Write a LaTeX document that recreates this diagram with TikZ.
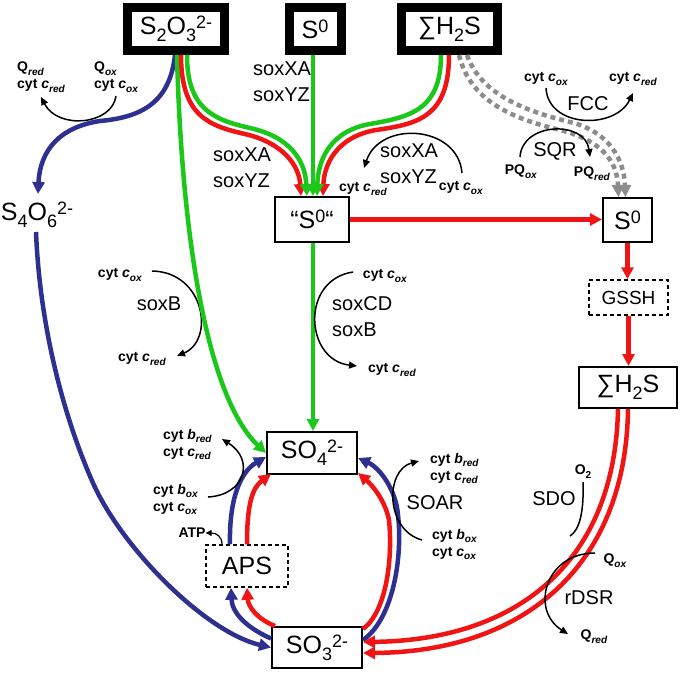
\documentclass[tikz,border=0pt]{standalone}
\usepackage{fontspec}
\usepackage{graphicx}
\setmainfont{Liberation Sans}
\usetikzlibrary{arrows.meta}
\definecolor{sgreen}{RGB}{25,200,25}
\definecolor{sred}{RGB}{240,20,20}
\definecolor{sblue}{RGB}{45,48,145}
\definecolor{sgray}{RGB}{140,140,140}
\newcommand\dn[1]{\raisebox{-0.28em}{\scalebox{0.72}{#1}}}
\newcommand\up[1]{\raisebox{0.25em}{\scalebox{0.72}{#1}}}
\newcommand\cy[2]{cyt \textit{#1}\dn{\textit{#2}}}
\tikzset{
 heavy/.style={draw, line width=9pt, inner sep=0pt, font=\fontsize{25}{30}\selectfont},
 thinbox/.style={draw, line width=2pt, inner sep=0pt, font=\fontsize{25}{30}\selectfont},
 dbox/.style={draw, dash pattern=on 4pt off 3pt, line width=1.5pt, inner sep=0pt},
 big/.style={font=\fontsize{20}{26}\selectfont, inner sep=0pt, align=left},
 small/.style={font=\fontsize{14}{17}\selectfont\bfseries, inner sep=0pt, align=left},
 flow/.style={line width=4.5pt, -{Triangle[length=12pt,width=12pt]}},
 thinarr/.style={line width=1.5pt, -{Triangle[length=8pt,width=7pt]}},
 graydash/.style={flow, sgray, dash pattern=on 5pt off 4pt},
}
\begin{document}
\begin{tikzpicture}[x=1pt,y=-1pt]
\useasboundingbox (0,0) rectangle (680,672);
% boxes
\node[heavy, minimum width=97pt, minimum height=43pt] (s2o3) at (176,29) {S\dn{2}O\dn{3}\up{2-}};
\node[heavy, minimum width=52pt, minimum height=43pt] (s0t) at (315,29) {S\up{0}};
\node[heavy, minimum width=96pt, minimum height=43pt] (sumt) at (449.5,29) {∑H\dn{2}S};
\node[thinbox, minimum width=74pt, minimum height=45pt] (qs0) at (312,219.5) {“S\up{0}“};
\node[thinbox, minimum width=49pt, minimum height=44pt] (s0r) at (627.5,220) {S\up{0}};
\node[dbox, font=\fontsize{19}{22}\selectfont, minimum width=79pt, minimum height=35pt] (gssh) at (628.5,297.5) {GSSH};
\node[thinbox, minimum width=98pt, minimum height=41pt] (suml) at (628,387.5) {∑H\dn{2}S};
\node[thinbox, minimum width=90pt, minimum height=42pt] (so4) at (312,453) {SO\dn{4}\up{2-}};
\node[dbox, font=\fontsize{25}{30}\selectfont, minimum width=82pt, minimum height=42pt] (aps) at (247,566) {APS};
\node[thinbox, minimum width=90pt, minimum height=41pt] (so3) at (317,647.5) {SO\dn{3}\up{2-}};
\node[font=\fontsize{25}{30}\selectfont, inner sep=0pt] (s4o6) at (37,215) {S\dn{4}O\dn{6}\up{2-}};
\coordinate (s4o6in) at (38,194);
\coordinate (s4o6out) at (36,232);

% labels
\node[small, anchor=west] (l1) at (17,77.5) {Q\dn{\textit{red}}\\\cy{c}{red}};
\node[small, anchor=west] (l2) at (94,77.5) {Q\dn{\textit{ox}}\\\cy{c}{ox}};
\node[big, anchor=west] (l3) at (253,81.5) {soxXA\\soxYZ};
\node[big, anchor=west] (l4) at (213,168) {soxXA\\soxYZ};
\node[big, anchor=west] (l5) at (380,164) {soxXA\\soxYZ};
\node[small] (l6) at (363,189) {\cy{c}{red}};
\node[small] (l7) at (461,188) {\cy{c}{ox}};
\node[small] (l8) at (546,79) {\cy{c}{ox}};
\node[small] (l9) at (633,79) {\cy{c}{red}};
\node[big] (l10) at (588,104) {FCC};
\node[big] (l11) at (555,151) {SQR};
\node[small] (l12) at (521,172) {PQ\dn{\textit{ox}}};
\node[small] (l13) at (592,174) {PQ\dn{\textit{red}}};
\node[small] (l14) at (385,276) {\cy{c}{ox}};
\node[big, anchor=west] (l15) at (332,316.5) {soxCD\\soxB};
\node[small] (l16) at (392,370) {\cy{c}{red}};
\node[small] (l17) at (120,275) {\cy{c}{ox}};
\node[big] (l18) at (159,304) {soxB};
\node[small] (l19) at (142,359) {\cy{c}{red}};
\node[small, anchor=west] (l20) at (163,444.5) {\cy{b}{red}\\\cy{c}{red}};
\node[small, anchor=west] (l21) at (153,499.5) {\cy{b}{ox}\\\cy{c}{ox}};
\node[small] (l22) at (192,533) {ATP};
\node[small, anchor=west] (l23) at (430,468.5) {\cy{b}{red}\\\cy{c}{red}};
\node[big] (l24) at (435,503) {SOAR};
\node[small, anchor=west] (l25) at (432,544.5) {\cy{b}{ox}\\\cy{c}{ox}};
\node[small] (l26) at (583,472) {O\dn{2}};
\node[big] (l27) at (554,499) {SDO};
\node[small] (l28) at (615,561) {Q\dn{\textit{ox}}};
\node[big] (l29) at (589,598) {rDSR};
\node[small] (l30) at (594,637) {Q\dn{\textit{red}}};

% black arcs behind
\draw[thinarr] (116,96) .. controls (112,125) and (58,130) .. (41,97);
\draw[thinarr] (152,271) .. controls (205,272) and (215,340) .. (177,356);

% blue
\draw[flow, sblue] ([xshift=-1pt]s2o3.south) .. controls (170,100) and (145,117) .. (100,121) .. controls (60,127) and (40,150) .. (s4o6in);
\draw[flow, sblue] (s4o6out) .. controls (40,330) and (65,420) .. (93,483) .. controls (122,548) and (205,632) .. (so3.west);

% long green
\draw[flow, sgreen] ([xshift=1pt]s2o3.south) .. controls (182,250) and (210,400) .. (so4.west);

% pair S2O3 -> "S0"
\draw[flow, sred] ([xshift=5pt]s2o3.south) .. controls (181,117) and (210,126) .. (245,134) .. controls (283,143) and (299,165) .. ([xshift=-11pt]qs0.north);
\draw[flow, sgreen] ([xshift=11pt]s2o3.south) .. controls (187,110) and (215,120) .. (250,128) .. controls (290,137) and (305,160) .. ([xshift=-5pt]qs0.north);

% pair sum -> "S0"
\draw[flow, sred] ([xshift=-0.5pt]sumt.south) .. controls (449,117) and (418,124) .. (376,130) .. controls (336,137) and (324,165) .. ([xshift=11pt]qs0.north);
\draw[flow, sgreen] ([xshift=-8.5pt]sumt.south) .. controls (441,110) and (410,117) .. (370,124) .. controls (330,131) and (318,160) .. ([xshift=5pt]qs0.north);

% S0 -> "S0"
\draw[flow, sgreen] ([xshift=-2pt]s0t.south) -- ([xshift=-2pt]s0t.south |- qs0.north);

% gray dashed
\draw[graydash] ([xshift=9.5pt]sumt.south) .. controls (470,100) and (510,118) .. (560,130) .. controls (600,140) and (617,160) .. ([xshift=-9pt]s0r.north);
\draw[graydash] ([xshift=17.5pt]sumt.south) .. controls (480,92) and (520,110) .. (570,122) .. controls (610,132) and (624,160) .. ([xshift=-2pt]s0r.north);

% red right column
\draw[flow, sred] (qs0.east) -- (qs0.east -| s0r.west);
\draw[flow, sred] (s0r.south) -- (s0r.south |- gssh.north);
\draw[flow, sred] (gssh.south) -- (gssh.south |- suml.north);

% "S0" -> SO4
\draw[flow, sgreen] ([xshift=1pt]qs0.south) -- ([xshift=1pt]qs0.south |- so4.north);

% SO3 -> APS
\draw[flow, sblue] ([yshift=9pt]so3.west) .. controls (245,627) and (232,612) .. ([xshift=-16pt]aps.south);
\draw[flow, sred] ([xshift=4pt]so3.north west) .. controls (255,618) and (248,605) .. (aps.south);

% APS -> SO4
\draw[flow, sblue] ([xshift=-17pt]aps.north) .. controls (229,500) and (240,472) .. ([yshift=-4pt]so4.west);
\draw[flow, sred] (aps.north) .. controls (247,505) and (252,488) .. ([xshift=5pt,yshift=1pt]so4.south west);

% SO3 -> SO4 right
\draw[flow, sred] ([yshift=-3pt]so3.north east) .. controls (386,612) and (393,560) .. (389,520) .. controls (385,500) and (372,485) .. ([yshift=2pt]so4.south east);
\draw[flow, sblue] ([yshift=7.5pt]so3.east) .. controls (392,620) and (403,560) .. (398,515) .. controls (396,490) and (380,468) .. ([yshift=-5pt]so4.east);

% red double
\draw[flow, sred] ([xshift=-10pt]suml.south) .. controls (615,560) and (520,640) .. ([yshift=5.5pt]so3.east);
\draw[flow, sred] (suml.south) .. controls (626,565) and (525,652) .. ([yshift=-5.5pt]so3.east);

% black arcs
\draw[thinarr] (462,173) .. controls (458,125) and (380,120) .. (364,168);
\draw[thinarr] (546,88) .. controls (548,128) and (615,130) .. (633,93);
\draw[thinarr] (520,157) .. controls (522,122) and (585,120) .. (590,157);
\draw[thinarr] (353,272) .. controls (300,280) and (305,360) .. (357,366);
\draw[thinarr] (208,497) .. controls (245,495) and (255,460) .. (222,439);
\draw[line width=1.2pt, -{Triangle[length=6pt,width=6pt]}] ([xshift=-25pt]aps.north) .. controls (222,537) and (217,533) .. (l22.east);
\draw[thinarr] (422,540) .. controls (385,530) and (385,470) .. (419,461);
\draw[line width=1.5pt] (583,482) .. controls (584,510) and (580,530) .. (570,536);
\draw[thinarr] (595,553) .. controls (545,553) and (530,610) .. (568,634);
\end{tikzpicture}
\end{document}
